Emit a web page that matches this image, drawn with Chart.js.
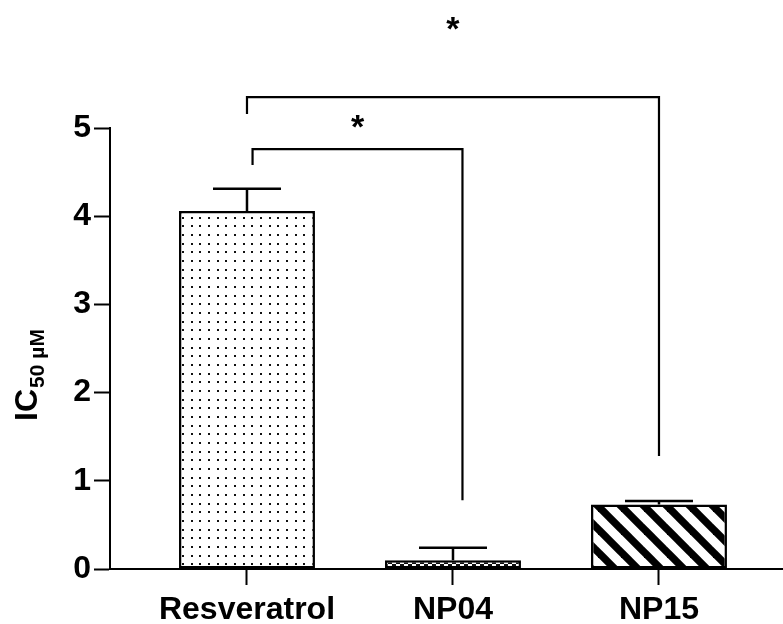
<!DOCTYPE html>
<html>
<head>
<meta charset="utf-8">
<script src="https://cdn.jsdelivr.net/npm/chart.js@4"></script>
<style>
  html, body { margin: 0; padding: 0; background: #fff; }
  #wrap { width: 783px; height: 624px; position: relative; }
</style>
</head>
<body>
<div id="wrap"><canvas id="ic50"></canvas></div>
<script>
// data
const categories = ['Resveratrol', 'NP04', 'NP15'];
const xPos = [1, 2, 3];
const meanValues = [4.06, 0.10, 0.73];
const semValues = [0.25, 0.14, 0.04];
const yTicks = [0, 1, 2, 3, 4, 5];

// significance brackets (x in category units, y in µM)
const bracketLeftX = [1.027, 1.0];
const bracketRightX = [2.046, 3.0];
const bracketTopY = [4.76, 5.35];
const bracketLeftEndY = [4.58, 5.16];
const bracketRightEndY = [0.78, 1.28];
const starY = [5.06, 6.17];
const starLabels = ['*', '*'];

const FONT = "'Liberation Sans', Arial, sans-serif";

function makePattern(size, draw) {
  const c = document.createElement('canvas');
  c.width = size; c.height = size;
  const g = c.getContext('2d');
  g.fillStyle = '#fff'; g.fillRect(0, 0, size, size);
  draw(g, size);
  return c.getContext('2d').createPattern(c, 'repeat');
}

const dotPattern = makePattern(26, (g, s) => {
  g.fillStyle = '#111';
  for (let i = 0; i < 3; i++) for (let j = 0; j < 3; j++)
    g.fillRect(Math.round(i * s / 3), Math.round(j * s / 3), 2, 2);
});
const checkPattern = makePattern(8, (g, s) => {
  g.fillStyle = '#111';
  g.fillRect(0, 0, s, s);
  g.fillStyle = '#fff';
  g.fillRect(0, 0, 4, 4); g.fillRect(4, 4, 4, 4);
});
const stripePattern = makePattern(23, (g, s) => {
  g.strokeStyle = '#000'; g.lineWidth = 7.5;
  for (let k = -1; k <= 1; k++) {
    g.beginPath(); g.moveTo(k * s - s, -s); g.lineTo(k * s + 2 * s, 2 * s); g.stroke();
  }
});

// upward error bars, cap = half the bar width
const errorBars = {
  id: 'errorBars',
  afterDatasetsDraw(chart) {
    const ctx = chart.ctx, y = chart.scales.y;
    const meta = chart.getDatasetMeta(0);
    ctx.save();
    ctx.strokeStyle = '#000'; ctx.lineWidth = 2.5;
    meta.data.forEach((bar, i) => {
      const top = y.getPixelForValue(meanValues[i] + semValues[i]);
      const half = bar.width / 4;
      ctx.beginPath();
      ctx.moveTo(bar.x, bar.y); ctx.lineTo(bar.x, top);
      ctx.moveTo(bar.x - half, top); ctx.lineTo(bar.x + half, top);
      ctx.stroke();
    });
    ctx.restore();
  }
};

const brackets = {
  id: 'brackets',
  afterDraw(chart) {
    const ctx = chart.ctx, xs = chart.scales.x, ys = chart.scales.y;
    ctx.save();
    ctx.strokeStyle = '#000'; ctx.lineWidth = 2.2; ctx.lineJoin = 'miter';
    ctx.fillStyle = '#000';
    ctx.font = 'bold 34px ' + FONT;
    ctx.textAlign = 'center'; ctx.textBaseline = 'middle';
    bracketTopY.forEach((v, i) => {
      const x1 = xs.getPixelForValue(bracketLeftX[i]);
      const x2 = xs.getPixelForValue(bracketRightX[i]);
      const yt = ys.getPixelForValue(v);
      ctx.beginPath();
      ctx.moveTo(x1, ys.getPixelForValue(bracketLeftEndY[i]));
      ctx.lineTo(x1, yt); ctx.lineTo(x2, yt);
      ctx.lineTo(x2, ys.getPixelForValue(bracketRightEndY[i]));
      ctx.stroke();
      ctx.fillText(starLabels[i], (x1 + x2) / 2, ys.getPixelForValue(starY[i]) + 6);
    });
    ctx.restore();
  }
};

// y title: IC with subscript "50 µM"
const yTitle = {
  id: 'yTitle',
  afterDraw(chart) {
    const ctx = chart.ctx, ys = chart.scales.y;
    const cy = (ys.top + ys.bottom) / 2 + 27;
    ctx.save();
    ctx.translate(37, cy);
    ctx.rotate(-Math.PI / 2);
    ctx.fillStyle = '#000';
    ctx.textBaseline = 'alphabetic'; ctx.textAlign = 'left';
    const big = 'bold 32px ' + FONT, small = 'bold 21px ' + FONT;
    ctx.font = big; const w1 = ctx.measureText('IC').width;
    ctx.font = small; const w2 = ctx.measureText('50 \u00b5M').width;
    const x0 = -(w1 + w2) / 2;
    ctx.font = big; ctx.fillText('IC', x0, 0);
    ctx.font = small; ctx.fillText('50 \u00b5M', x0 + w1 + 1, 7);
    ctx.restore();
  }
};

new Chart(document.getElementById('ic50'), {
  type: 'bar',
  data: {
    datasets: [{
      data: xPos.map((x, i) => ({ x, y: meanValues[i] })),
      backgroundColor: [dotPattern, checkPattern, stripePattern],
      borderColor: '#000',
      borderWidth: 2.5,
      borderSkipped: false,
      barPercentage: 0.66,
      categoryPercentage: 1
    }]
  },
  options: {
    responsive: true, maintainAspectRatio: false,
    animation: false,
    layout: { padding: { top: 128, right: 0, left: 0, bottom: 0 } },
    plugins: { legend: { display: false }, tooltip: { enabled: false } },
    scales: {
      x: {
        type: 'linear', min: 0.335, max: 3.602, offset: false,
        afterBuildTicks: s => { s.ticks = xPos.map(v => ({ value: v })); },
        afterFit: s => { s.height = 55; },
        grid: { offset: false, drawOnChartArea: false, tickLength: 16, tickColor: '#000', tickWidth: 2 },
        border: { display: true, color: '#000', width: 2 },
        ticks: {
          color: '#000', padding: 6, maxRotation: 0, autoSkip: false,
          font: { family: FONT, size: 32, weight: 'bold' },
          callback: v => categories[xPos.indexOf(v)] || ''
        }
      },
      y: {
        min: 0, max: 5,
        afterBuildTicks: s => { s.ticks = yTicks.map(v => ({ value: v })); },
        afterFit: s => { s.width = 110; },
        grid: { drawOnChartArea: false, tickLength: 16, tickColor: '#000', tickWidth: 2 },
        border: { display: true, color: '#000', width: 2 },
        ticks: {
          color: '#000', padding: 3,
          font: { family: FONT, size: 32, weight: 'bold' }
        }
      }
    }
  },
  plugins: [errorBars, brackets, yTitle]
});
</script>
</body>
</html>
